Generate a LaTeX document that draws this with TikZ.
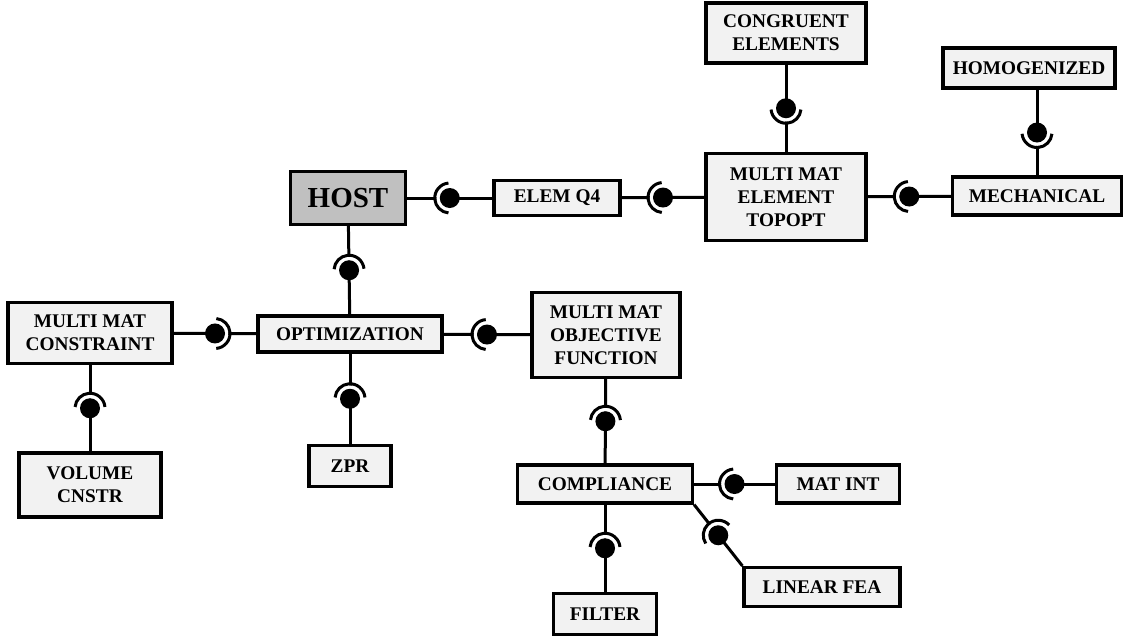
\documentclass[tikz,border=0pt]{standalone}
\usepackage{fontspec}
\setmainfont{Liberation Serif}
\usetikzlibrary{calc}

\newlength\px
\setlength\px{0.02cm}
\definecolor{boxfill}{HTML}{F2F2F2}
\definecolor{hostfill}{HTML}{C0C0C0}

% ball and socket between two components, socket facing the requiring side
\newcommand\iface[2]{%
	\draw[conn] (#1) -- (#2) coordinate[midway] (ball);
	\draw[white, line width=3.6\px] let \p1=($(#1)-(ball)$), \n1={atan2(\y1,\x1)} in
		($(ball)+(\n1-88:11.6\px)$) arc[start angle=\n1-88, delta angle=176, radius=11.6\px];
	\fill (ball) circle[radius=10\px];
	\draw[line width=3\px] let \p1=($(#1)-(ball)$), \n1={atan2(\y1,\x1)} in
		($(ball)+(\n1-85:15\px)$) arc[start angle=\n1-85, delta angle=170, radius=15\px];
}

\begin{document}
\begin{tikzpicture}[x=\px, y=-\px,
	comp/.style={rectangle, draw=black, line width=3.2\px, fill=boxfill, align=center, inner sep=0pt,
		font=\fontsize{11}{13}\selectfont\bfseries},
	conn/.style={draw=black, line width=3\px}
	]
	\useasboundingbox (0,0) rectangle (1135,636);

		\node (host) [comp, fill=hostfill, minimum width=115\px, minimum height=53\px,
			font=\fontsize{16.5}{20}\selectfont\bfseries] at (348,198) {HOST};
		\node (elem) [comp, minimum width=126\px, minimum height=35\px] at (557,198) {ELEM Q4};
		\node (mmet) [comp, minimum width=160\px, minimum height=87\px] at (786,197) {MULTI MAT\\ELEMENT\\TOPOPT};
		\node (congr) [comp, minimum width=160\px, minimum height=60\px] at (786,33) {CONGRUENT\\ELEMENTS};
		\node (mech) [comp, minimum width=169\px, minimum height=38\px] at (1037,196) {MECHANICAL};
		\node (homog) [comp, minimum width=172\px, minimum height=40\px] at (1029,68) {HOMOGENIZED};

		\node (opt) [comp, minimum width=184\px, minimum height=36\px] at (350,334) {OPTIMIZATION};
		\node (constr) [comp, minimum width=164\px, minimum height=61\px] at (90,333) {MULTI MAT\\CONSTRAINT};
		\node (volume) [comp, minimum width=142\px, minimum height=64\px] at (90,485) {VOLUME\\CNSTR};
		\node (zpr) [comp, minimum width=82\px, minimum height=41\px] at (350,466) {ZPR};
		\node (obj) [comp, minimum width=148\px, minimum height=85\px] at (606,335) {MULTI MAT\\OBJECTIVE\\FUNCTION};

		\node (compl) [comp, minimum width=175\px, minimum height=38\px] at (605,484) {COMPLIANCE};
		\node (matint) [comp, minimum width=123\px, minimum height=38\px] at (838,484) {MAT INT};
		\node (linfea) [comp, minimum width=156\px, minimum height=39\px] at (822,587) {LINEAR FEA};
		\node (filter) [comp, minimum width=103\px, minimum height=41\px] at (605,614) {FILTER};

	\iface{host}{elem}
	\iface{elem}{mmet}
	\iface{mmet}{mech}
	\iface{mmet}{congr}
	\iface{mech}{mech.north |- homog.south}

	\iface{host}{opt}
	\iface{opt}{constr}
	\iface{constr}{volume}
	\iface{opt}{zpr}
	\iface{opt}{obj}

	\iface{obj}{compl}
	\iface{compl}{matint}
	\iface{compl.south east}{linfea.north west}
	\iface{compl}{filter}

\end{tikzpicture}
\end{document}
